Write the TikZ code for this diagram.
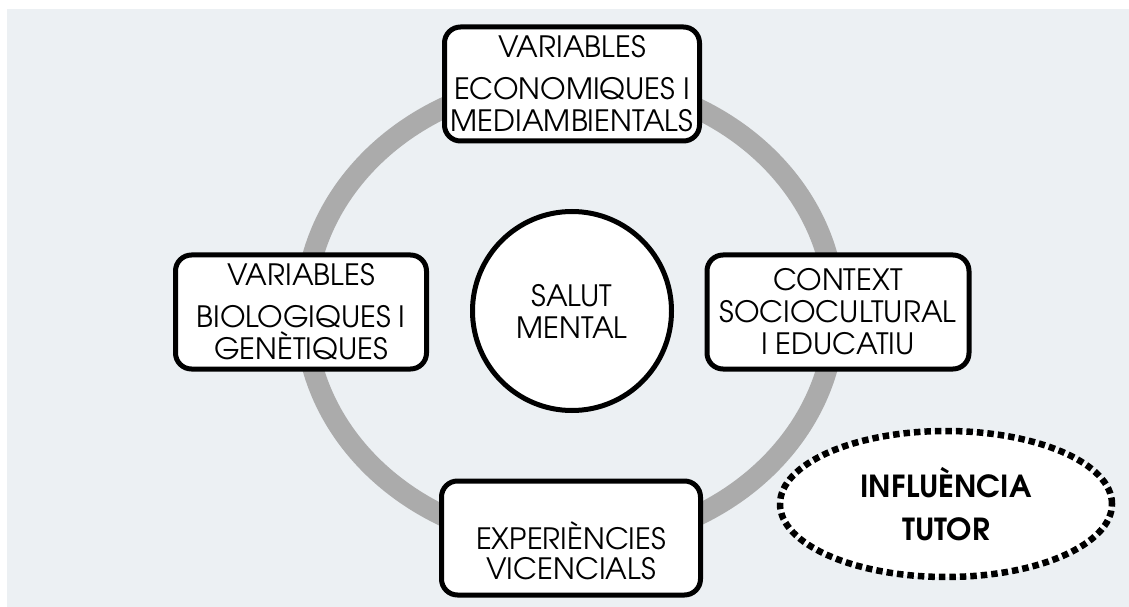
\documentclass[tikz,border=0pt]{standalone}
\usepackage{fontspec}
\setmainfont{texgyreadventor}[Extension=.otf,UprightFont=*-regular,BoldFont=*-bold]
\usepackage{tikz}
\usetikzlibrary{shapes,positioning}
\definecolor{fons}{RGB}{236,240,243}
\definecolor{anella}{RGB}{171,171,171}

\begin{document}
\begin{tikzpicture}[x=1bp,y=-1bp]
\tikzstyle{caixa} = [draw, line width=5bp, rounded corners=16bp, fill=white, align=center, minimum height=114bp, inner sep=0pt, font=\fontsize{29.5}{32.1}\selectfont]
\tikzstyle{salut} = [draw, circle, line width=5bp, fill=white, align=center, minimum size=199bp, inner sep=0pt, font=\fontsize{29.5}{32.1}\selectfont]
\tikzstyle{tutor} = [draw, ellipse, line width=6.5bp, dash pattern=on 6.5bp off 4bp, fill=white, align=center, minimum width=332bp, minimum height=146bp, inner sep=0pt, font=\bfseries\fontsize{30.5}{43}\selectfont]
\useasboundingbox (0,0) rectangle (1129,607);
\fill[fons] (7,9) rectangle (1129,607);
\draw[anella, line width=21bp] (570,312) ellipse (265bp and 232bp);
\draw
(572,84) node [caixa, minimum width=255bp] (eco) {VARIABLES\\[10bp]ECONOMIQUES I\\MEDIAMBIENTALS}
(301,312) node [caixa, minimum width=251bp] (bio) {VARIABLES\\[10bp]BIOLOGIQUES I\\GENÈTIQUES}
(838,312) node [caixa, minimum width=262bp] (ctx) {CONTEXT\\SOCIOCULTURAL\\I EDUCATIU}
(571,538) node [caixa, minimum width=259bp, label={[align=center, font=\fontsize{29.5}{30.1}\selectfont, yshift=-13bp]center:EXPERIÈNCIES\\VICENCIALS}] (exp) {}
(572,311) node [salut] (sm) {SALUT\\MENTAL}
(946,504) node [tutor] (inf) {INFLUÈNCIA\\TUTOR};
\end{tikzpicture}
\end{document}
